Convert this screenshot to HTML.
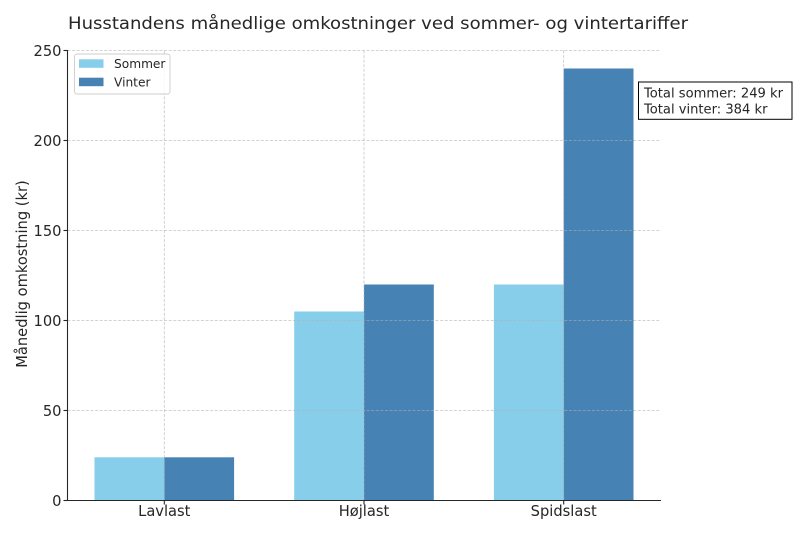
<!DOCTYPE html>
<html><head><meta charset="utf-8"><style>
html,body{margin:0;padding:0;background:#fff;}
svg{display:block;font-family:"DejaVu Sans","Liberation Sans",sans-serif;}
</style></head><body>
<svg width="800" height="533" viewBox="0 0 800 533" xmlns="http://www.w3.org/2000/svg">
<rect width="800" height="533" fill="#fff"/>
<text x="68" y="29" font-size="17.3" fill="#262626" textLength="620" lengthAdjust="spacingAndGlyphs">Husstandens månedlige omkostninger ved sommer- og vintertariffer</text>
<!-- bars -->
<g>
<rect x="94.5" y="457.3" width="69.8" height="43.2" fill="#87CEEB"/>
<rect x="164.3" y="457.3" width="69.8" height="43.2" fill="#4682B4"/>
<rect x="294.2" y="311.5" width="69.8" height="189" fill="#87CEEB"/>
<rect x="364" y="284.5" width="69.8" height="216" fill="#4682B4"/>
<rect x="493.9" y="284.5" width="69.8" height="216" fill="#87CEEB"/>
<rect x="563.7" y="68.5" width="69.8" height="432" fill="#4682B4"/>
</g>
<!-- grid -->
<g stroke="#b0b0b0" stroke-opacity="0.75" stroke-width="0.8" stroke-dasharray="3,1.6">
<line x1="67.5" y1="50.5" x2="660.6" y2="50.5"/>
<line x1="67.5" y1="140.5" x2="660.6" y2="140.5"/>
<line x1="67.5" y1="230.5" x2="660.6" y2="230.5"/>
<line x1="67.5" y1="320.5" x2="660.6" y2="320.5"/>
<line x1="67.5" y1="410.5" x2="660.6" y2="410.5"/>
<line x1="164.3" y1="50.5" x2="164.3" y2="500.5"/>
<line x1="364" y1="50.5" x2="364" y2="500.5"/>
<line x1="563.7" y1="50.5" x2="563.7" y2="500.5"/>
</g>
<!-- spines -->
<g stroke="#262626" stroke-width="1.1">
<line x1="67.5" y1="50" x2="67.5" y2="500.5"/>
<line x1="67" y1="500.5" x2="661" y2="500.5"/>
<line x1="63.5" y1="50.5" x2="67.5" y2="50.5"/>
<line x1="63.5" y1="140.5" x2="67.5" y2="140.5"/>
<line x1="63.5" y1="230.5" x2="67.5" y2="230.5"/>
<line x1="63.5" y1="320.5" x2="67.5" y2="320.5"/>
<line x1="63.5" y1="410.5" x2="67.5" y2="410.5"/>
<line x1="63.5" y1="500.5" x2="67.5" y2="500.5"/>
<line x1="164.3" y1="500.5" x2="164.3" y2="504.5"/>
<line x1="364" y1="500.5" x2="364" y2="504.5"/>
<line x1="563.7" y1="500.5" x2="563.7" y2="504.5"/>
</g>
<g font-size="14.67" fill="#262626" text-anchor="end">
<text x="61.5" y="55.8">250</text>
<text x="61.5" y="145.8">200</text>
<text x="61.5" y="235.8">150</text>
<text x="61.5" y="325.8">100</text>
<text x="61.5" y="415.8">50</text>
<text x="61.5" y="505.8">0</text>
</g>
<g font-size="14.67" fill="#262626" text-anchor="middle">
<text x="164.3" y="516">Lavlast</text>
<text x="364" y="516">Højlast</text>
<text x="563.7" y="516">Spidslast</text>
</g>
<text transform="translate(27,274) rotate(-90)" font-size="14.67" fill="#262626" text-anchor="middle">Månedlig omkostning (kr)</text>
<!-- legend -->
<rect x="74.5" y="54" width="95.5" height="40" rx="2.5" fill="#fff" fill-opacity="0.85" stroke="#cccccc" stroke-width="0.9"/>
<rect x="79" y="59.3" width="24.5" height="8.5" fill="#87CEEB"/>
<rect x="79" y="77.7" width="24.5" height="8.5" fill="#4682B4"/>
<text x="114" y="68" font-size="12.2" fill="#262626">Sommer</text>
<text x="114" y="86.5" font-size="12.2" fill="#262626">Vinter</text>
<!-- text box -->
<rect x="638.5" y="82" width="153.5" height="37.3" fill="#fff" stroke="#000" stroke-width="1"/>
<text x="644" y="97.3" font-size="13.1" fill="#262626">Total sommer: 249 kr</text>
<text x="644" y="113.3" font-size="13.1" fill="#262626">Total vinter: 384 kr</text>
</svg>
</body></html>
